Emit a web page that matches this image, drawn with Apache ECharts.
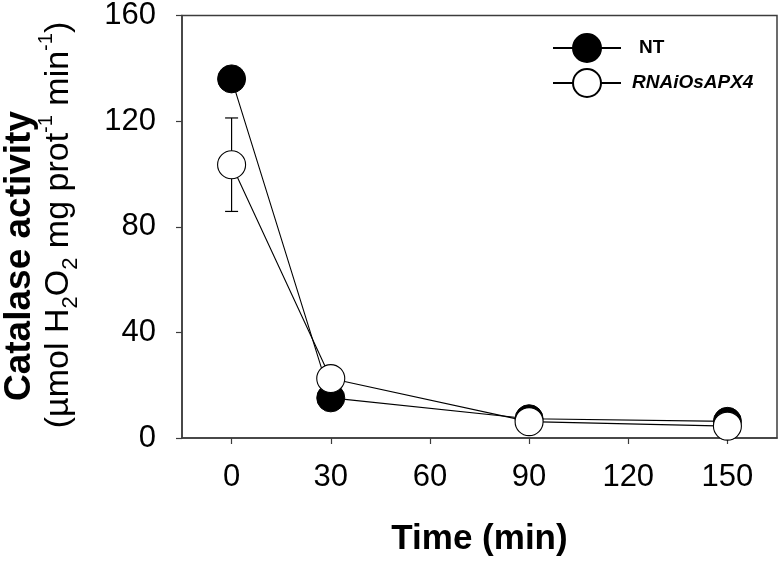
<!DOCTYPE html>
<html>
<head>
<meta charset="utf-8">
<script src="https://cdn.jsdelivr.net/npm/echarts@6/dist/echarts.min.js"></script>
<style>
html,body{margin:0;padding:0;background:#fff;}
#chart{width:780px;height:562px;}
</style>
</head>
<body>
<div id="chart"></div>
<script>
// ---- data ----
const timeMin = [0, 30, 90, 150];
const ntValues = [136, 15.2, 7.3, 6.3];
const rnaiValues = [103.5, 22.5, 6.2, 4.5];
const rnaiError = [17.7, 0, 0, 0];
const xTickValues = [0, 30, 60, 90, 120, 150];
const yTickValues = [0, 40, 80, 120, 160];
const seriesNames = ['NT', 'RNAiOsAPX4'];

const FONT = '"Liberation Sans", Arial, sans-serif';
const AXIS_COLOR = '#3c3c3c';

const chart = echarts.init(document.getElementById('chart'), null, {renderer: 'canvas'});

const ntData = timeMin.map((t, i) => [t, ntValues[i]]);
const rnaiData = timeMin.map((t, i) => [t, rnaiValues[i]]);
const errData = timeMin.map((t, i) => [t, rnaiValues[i] - rnaiError[i], rnaiValues[i] + rnaiError[i], rnaiError[i]]);

const option = {
  backgroundColor: '#fff',
  animation: false,
  grid: {left: 182, right: 3, top: 14, bottom: 119, show: true, borderColor: AXIS_COLOR, borderWidth: 1.5, backgroundColor: 'transparent'},
  xAxis: {
    type: 'value', min: -15, max: 165,
    name: 'Time (min)', nameLocation: 'middle', nameGap: 84,
    nameTextStyle: {fontFamily: FONT, fontWeight: 'bold', fontSize: 35, color: '#000'},
    axisLine: {show: true, onZero: false, lineStyle: {color: AXIS_COLOR, width: 1.5}},
    axisTick: {show: true, inside: false, length: 6, customValues: xTickValues, lineStyle: {color: AXIS_COLOR, width: 1.2}},
    axisLabel: {customValues: xTickValues, margin: 24, fontFamily: FONT, fontSize: 31, color: '#000'},
    splitLine: {show: false}
  },
  yAxis: {
    type: 'value', min: 0, max: 160, interval: 40,
    axisLine: {show: true, onZero: false, lineStyle: {color: AXIS_COLOR, width: 1.5}},
    axisTick: {show: true, inside: false, length: 6, lineStyle: {color: AXIS_COLOR, width: 1.2}},
    axisLabel: {margin: 26, fontFamily: FONT, fontSize: 31, color: '#000'},
    splitLine: {show: false}
  },
  legend: {
    orient: 'vertical', left: 547, top: 28, itemWidth: 68, itemHeight: 35, itemGap: 5,
    data: seriesNames,
    formatter: function (name) { return name === 'NT' ? '{n|NT}' : '{i|RNAiOsAPX4}'; },
    textStyle: {
      fontFamily: FONT, fontSize: 19, fontWeight: 'bold', color: '#000',
      rich: {
        n: {fontFamily: FONT, fontSize: 19, fontWeight: 'bold', color: '#000', padding: [0, 0, 0, 13]},
        i: {fontFamily: FONT, fontSize: 19, fontWeight: 'bold', fontStyle: 'italic', color: '#000', padding: [0, 0, 0, 6]}
      }
    }
  },
  graphic: [
    {
      type: 'text', x: 20, y: 256, rotation: Math.PI / 2,
      style: {text: 'Catalase activity', font: 'bold 37px ' + FONT, fill: '#000', align: 'center', verticalAlign: 'middle'}
    },
    {
      type: 'text', x: 59, y: 225, rotation: Math.PI / 2,
      style: {
        text: '{n|(µmol H}{s|2}{n|O}{s|2}{n| mg prot}{p|-1}{n| min}{p|-1}{n|)}',
        align: 'center', verticalAlign: 'middle', fill: '#000',
        rich: {
          n: {fontFamily: FONT, fontSize: 34, color: '#000', lineHeight: 46, verticalAlign: 'middle'},
          s: {fontFamily: FONT, fontSize: 22, color: '#000', lineHeight: 22, verticalAlign: 'bottom'},
          p: {fontFamily: FONT, fontSize: 20, color: '#000', lineHeight: 20, verticalAlign: 'top'}
        }
      }
    }
  ],
  series: [
    {
      name: 'err', type: 'custom', z: 1, silent: true,
      data: errData,
      renderItem: function (params, api) {
        if (api.value(3) <= 0) return null;
        const lo = api.coord([api.value(0), api.value(1)]);
        const hi = api.coord([api.value(0), api.value(2)]);
        const hw = 6.5;
        const st = {stroke: '#000', lineWidth: 1.2};
        return {type: 'group', children: [
          {type: 'line', shape: {x1: lo[0], y1: lo[1], x2: hi[0], y2: hi[1]}, style: st},
          {type: 'line', shape: {x1: lo[0] - hw, y1: lo[1], x2: lo[0] + hw, y2: lo[1]}, style: st},
          {type: 'line', shape: {x1: hi[0] - hw, y1: hi[1], x2: hi[0] + hw, y2: hi[1]}, style: st}
        ]};
      }
    },
    {
      name: 'NT', type: 'line', z: 2, data: ntData,
      symbol: 'circle', symbolSize: 28,
      lineStyle: {color: '#000', width: 1.1},
      itemStyle: {color: '#000', borderColor: '#000', borderWidth: 1},
      emphasis: {disabled: true}
    },
    {
      name: 'RNAiOsAPX4', type: 'line', z: 3, data: rnaiData,
      symbol: 'circle', symbolSize: 28,
      lineStyle: {color: '#000', width: 1.1},
      itemStyle: {color: '#fff', borderColor: '#000', borderWidth: 1.1},
      emphasis: {disabled: true}
    }
  ]
};
chart.setOption(option);
</script>
</body>
</html>
